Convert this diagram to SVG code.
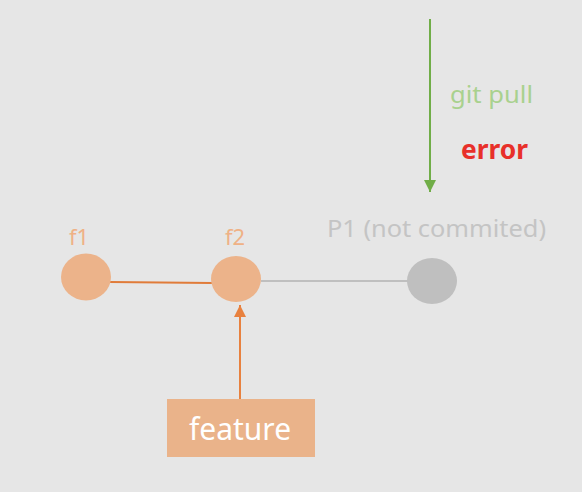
<svg xmlns="http://www.w3.org/2000/svg" width="582" height="492" viewBox="0 0 582 492">
<defs>
<marker id="ah-green" markerWidth="12" markerHeight="12" refX="10" refY="5" orient="auto" markerUnits="userSpaceOnUse" viewBox="0 0 10 10"><path d="M0,0 L10,5 L0,10 Z" fill="#70ad47"/></marker>
<marker id="ah-orange" markerWidth="12" markerHeight="12" refX="10" refY="5" orient="auto" markerUnits="userSpaceOnUse" viewBox="0 0 10 10"><path d="M0,0 L10,5 L0,10 Z" fill="#e8813f"/></marker>
</defs>
<style>
text{font-family:"Noto Sans","Open Sans","Liberation Sans",sans-serif}
.lbl{font-size:22px;fill:#efb185}
.commit{fill:#ecb38a}
</style>
<rect x="0" y="0" width="582" height="492" fill="#e6e6e6"/>
<g id="connectors">
<line x1="430" y1="19" x2="430" y2="192" stroke="#70ad47" stroke-width="2" marker-end="url(#ah-green)"/>
<line x1="110" y1="282" x2="212" y2="283" stroke="#e07b39" stroke-width="2"/>
<line x1="261" y1="281" x2="408" y2="281" stroke="#bfbfbf" stroke-width="2"/>
<line x1="240" y1="399" x2="240" y2="305" stroke="#e8813f" stroke-width="2" marker-end="url(#ah-orange)"/>
</g>
<g id="gitpull">
<text x="450" y="103" font-size="24" fill="#a9d18e" textLength="83" lengthAdjust="spacingAndGlyphs">git pull</text>
<text x="461" y="159" font-size="26" font-weight="bold" fill="#e8302a" textLength="67" lengthAdjust="spacingAndGlyphs">error</text>
</g>
<g id="f1">
<ellipse cx="86" cy="277" rx="25" ry="23.5" class="commit"/>
<text x="79" y="245" text-anchor="middle" class="lbl">f1</text>
</g>
<g id="f2">
<ellipse cx="236" cy="279" rx="25" ry="23" class="commit"/>
<text x="235" y="245" text-anchor="middle" class="lbl">f2</text>
</g>
<g id="p1">
<ellipse cx="432" cy="281" rx="25" ry="23" fill="#bfbfbf"/>
<text x="327" y="237" font-size="23" fill="#c4c4c4" textLength="219" lengthAdjust="spacingAndGlyphs">P1 (not commited)</text>
</g>
<g id="feature">
<rect x="167" y="399" width="148" height="58" fill="#eab38a"/>
<text x="240" y="440" text-anchor="middle" font-size="30" fill="#ffffff">feature</text>
</g>
</svg>
